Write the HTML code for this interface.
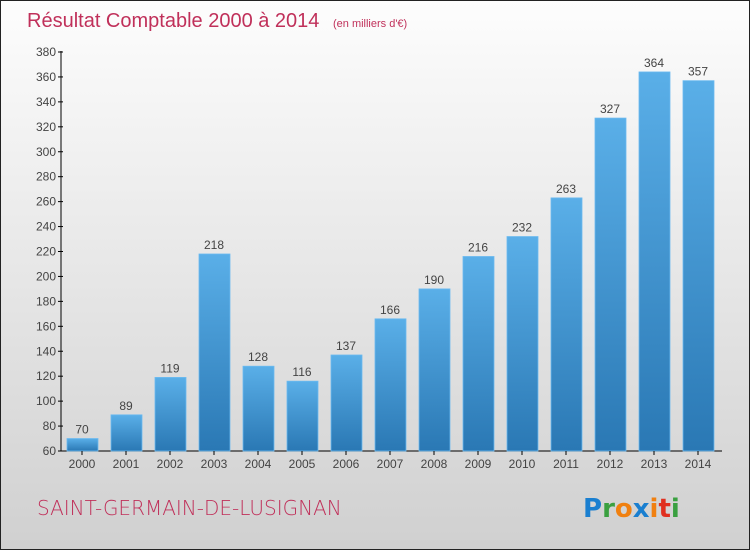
<!DOCTYPE html>
<html><head><meta charset="utf-8"><style>
body{margin:0}
#c{width:750px;height:550px;position:relative;box-sizing:border-box;border:1px solid #222;background:linear-gradient(#fdfdfd,#d0d0d0);font-family:"Liberation Sans",sans-serif;overflow:hidden}
</style></head><body>
<div id="c">
<svg id="s" width="748" height="548" style="position:absolute;left:0;top:0">
<defs><linearGradient id="g" x1="0" y1="0" x2="0" y2="1"><stop offset="0" stop-color="#5aafe8"/><stop offset="1" stop-color="#2a78b4"/></linearGradient></defs>
<text x="26" y="26" font-size="20" fill="#c0305a" font-family="Liberation Sans" font-weight="300">Résultat Comptable 2000 à 2014 <tspan font-size="11" dx="8">(en milliers d'€)</tspan></text>
<text x="36" y="514" font-size="20" fill="#c0305a" font-weight="200" font-family="DejaVu Sans">SAINT-GERMAIN-DE-LUSIGNAN</text>
<text x="582" y="516" font-size="26" font-family="DejaVu Sans" font-weight="bold"><tspan fill="#1a7fd0">P</tspan><tspan fill="#3aa040">r</tspan><tspan fill="#f08010">o</tspan><tspan fill="#1a7fd0">x</tspan><tspan fill="#f08010">i</tspan><tspan fill="#e03020">t</tspan><tspan fill="#3aa040">i</tspan></text>
<g id="plot" font-family="Liberation Sans"></g>
</svg></div>
<script>
const years=["2000","2001","2002","2003","2004","2005","2006","2007","2008","2009","2010","2011","2012","2013","2014"];
const values=[70,89,119,218,128,116,137,166,190,216,232,263,327,364,357];
const yTicks=[60,80,100,120,140,160,180,200,220,240,260,280,300,320,340,360,380];
const NS="http://www.w3.org/2000/svg",p=document.getElementById('plot');
const y=v=>450-(v-60)*(399/320), x=i=>81+i*44;
function mk(t,a,txt){const e=document.createElementNS(NS,t);for(const k in a)e.setAttribute(k,a[k]);if(txt!=null)e.textContent=txt;p.appendChild(e);return e;}
let e=mk('line',{x1:60,y1:50,x2:60,y2:450,stroke:'#000'});

e=mk('line',{x1:60,y1:450,x2:721,y2:450,stroke:'#000'});

yTicks.forEach(v=>{const t=mk('line',{x1:57,x2:62,y1:y(v),y2:y(v),stroke:'#000'});

const l=mk('text',{x:55,y:y(v)+4,'font-size':12,'text-anchor':'end',fill:'#444'},v);
});
years.forEach((yr,i)=>{const v=values[i];
const r=mk('rect',{x:x(i)-15,y:y(v),width:31,height:450-y(v),fill:'url(#g)',stroke:'#6bbaf0','stroke-width':0.8});

const t=mk('line',{x1:x(i),x2:x(i),y1:450,y2:454,stroke:'#000'});

const l=mk('text',{x:x(i),y:467,'font-size':12,'text-anchor':'middle',fill:'#444'},yr);

const vl=mk('text',{x:x(i),y:y(v)-5,'font-size':12,'text-anchor':'middle',fill:'#444'},v);
});
</script></body></html>
